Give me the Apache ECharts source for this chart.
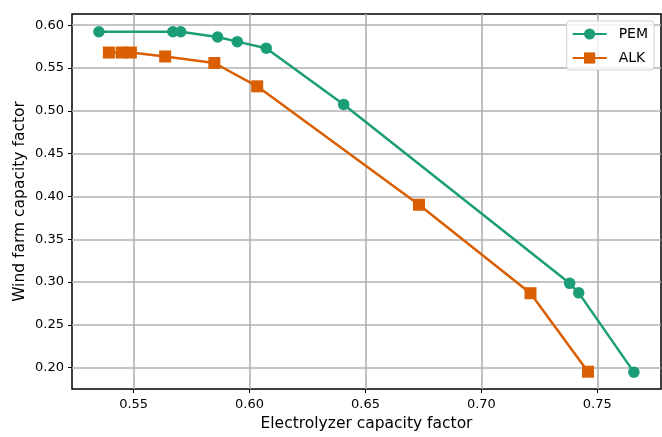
<!DOCTYPE html>
<html>
<head>
<meta charset="utf-8">
<script src="https://cdn.jsdelivr.net/npm/echarts@6/dist/echarts.min.js"></script>
<style>
html,body{margin:0;padding:0;background:#fff;}
#chart{width:662px;height:437px;}
</style>
</head>
<body>
<div id="chart"></div>
<script>
const pemX = [0.5350, 0.5669, 0.5703, 0.5862, 0.5947, 0.6072, 0.6406, 0.7381, 0.7420, 0.7658];
const pemY = [0.5923, 0.5923, 0.5923, 0.5862, 0.5808, 0.5732, 0.5075, 0.2985, 0.2874, 0.1948];
const alkX = [0.5393, 0.5448, 0.5488, 0.5636, 0.5848, 0.6033, 0.6731, 0.7212, 0.7460];
const alkY = [0.5681, 0.5681, 0.5681, 0.5635, 0.5559, 0.5286, 0.3903, 0.2870, 0.1953];
const xTicks = [0.55, 0.60, 0.65, 0.70, 0.75];
const yTicks = [0.20, 0.25, 0.30, 0.35, 0.40, 0.45, 0.50, 0.55, 0.60];

const font = 'DejaVu Sans';
const chart = echarts.init(document.getElementById('chart'), null, {renderer: 'canvas'});
const pem = pemX.map((x, i) => [x, pemY[i]]);
const alk = alkX.map((x, i) => [x, alkY[i]]);

chart.setOption({
  animation: false,
  backgroundColor: '#fff',
  grid: {left: 72, right: 1, top: 14, bottom: 45, show: true, borderColor: '#000', borderWidth: 1.5, backgroundColor: 'transparent'},
  legend: {
    right: 8, top: 21, orient: 'vertical', itemWidth: 34, itemHeight: 14, itemGap: 10,
    padding: [6, 6, 5, 5],
    backgroundColor: 'rgba(255,255,255,0.8)', borderColor: '#d0d0d0', borderWidth: 1, borderRadius: 3,
    textStyle: {fontFamily: font, fontSize: 14, color: '#000', padding: [0, 0, 0, 7]},
    data: ['PEM', 'ALK']
  },
  xAxis: {
    type: 'value', min: 0.5234, max: 0.7775,
    name: 'Electrolyzer capacity factor', nameLocation: 'middle', nameGap: 27, nameMoveOverlap: false,
    nameTextStyle: {fontFamily: font, fontSize: 15.5, color: '#000'},
    axisLine: {show: false},
    axisTick: {show: true, inside: false, length: 4, lineStyle: {color: '#000', width: 1}, customValues: xTicks},
    axisLabel: {fontFamily: font, fontSize: 13, color: '#000', margin: 9, customValues: xTicks, formatter: v => v.toFixed(2)},
    splitLine: {show: true, lineStyle: {color: '#b0b0b0', width: 1.6}, customValues: xTicks}
  },
  yAxis: {
    type: 'value', min: 0.1751, max: 0.6131,
    name: 'Wind farm capacity factor', nameLocation: 'middle', nameGap: 44, nameMoveOverlap: false,
    nameTextStyle: {fontFamily: font, fontSize: 15.5, color: '#000'},
    axisLine: {show: false},
    axisTick: {show: true, inside: false, length: 4, lineStyle: {color: '#000', width: 1}, customValues: yTicks},
    axisLabel: {fontFamily: font, fontSize: 13, color: '#000', margin: 8, customValues: yTicks, formatter: v => v.toFixed(2)},
    splitLine: {show: true, lineStyle: {color: '#b0b0b0', width: 1.6}, customValues: yTicks}
  },
  series: [
    {name: 'PEM', type: 'line', data: pem, symbol: 'circle', symbolSize: 11.5,
     itemStyle: {color: '#1b9e77'}, lineStyle: {color: '#1b9e77', width: 2.5}, z: 3},
    {name: 'ALK', type: 'line', data: alk, symbol: 'rect', symbolSize: 12,
     itemStyle: {color: '#d95f02'}, lineStyle: {color: '#d95f02', width: 2.5}, z: 2}
  ]
});
</script>
</body>
</html>
